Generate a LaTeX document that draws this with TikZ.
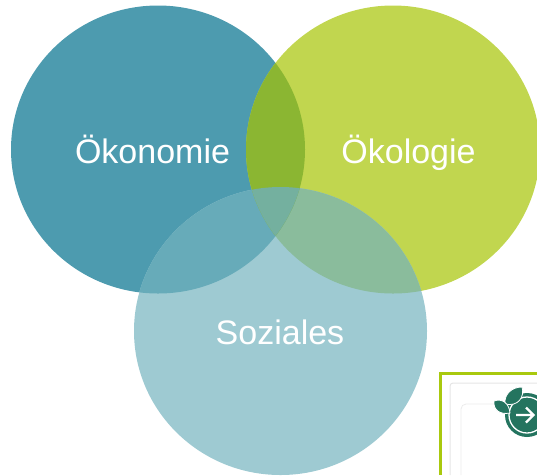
\documentclass[tikz,border=0pt]{standalone}
\usepackage{fontspec}
\setmainfont{Liberation Sans}
\usetikzlibrary{calc, positioning, shapes.geometric}
\definecolor{oekonomiecol}{HTML}{4D9BAF}
\definecolor{oekologiecol}{HTML}{C1D64F}
\definecolor{sozialescol}{HTML}{9ECAD2}
\definecolor{teilAB}{HTML}{8BB632}
\definecolor{teilAC}{HTML}{67ABB9}
\definecolor{teilBC}{HTML}{8ABC9C}
\definecolor{teilABC}{HTML}{74B09F}
\definecolor{framecol}{HTML}{A9C90E}
\definecolor{iconcol}{HTML}{24745F}
\tikzset{
   ringnode/.style={ellipse,draw=none,inner sep=0,outer sep=0,minimum width=294pt,minimum height=288pt},
   ringlabel/.style={inner sep=0,outer sep=0,anchor=base,text=white,font=\fontsize{34}{40}\selectfont},
   leaf/.style={fill=iconcol,draw=white,line width=0.8pt},
}
\begin{document}
\begin{tikzpicture}[x=1pt,y=-1pt]
   \useasboundingbox (0,0) rectangle (537,475);

   % the three circles
   \node[ringnode,fill=oekonomiecol] (oekonomie) at (158,149.5) {};
   \node[ringnode,fill=oekologiecol] (oekologie) at (393,149.5) {};
   \node[ringnode,fill=sozialescol,minimum width=293pt] (soziales) at (280.5,331) {};

   % overlaps
   \begin{scope}
      \clip (oekologie.center) ellipse (147pt and 144pt);
      \fill[teilBC] (soziales.center) ellipse (146.5pt and 144pt);
   \end{scope}
   \begin{scope}
      \clip (oekonomie.center) ellipse (147pt and 144pt);
      \fill[teilAC] (soziales.center) ellipse (146.5pt and 144pt);
      \clip (oekologie.center) ellipse (147pt and 144pt);
      \fill[teilAB] (oekologie.center) ellipse (147pt and 144pt);
      \fill[teilABC] (soziales.center) ellipse (146.5pt and 144pt);
   \end{scope}

   % labels
   \node[ringlabel] (oekonomie label) at (152.5,163) {Ökonomie};
   \node[ringlabel] (oekologie label) at (408.5,163) {Ökologie};
   \node[ringlabel] (soziales label) at (280,344) {Soziales};

   % inset in the corner
   \draw[framecol,line width=3pt] (440.5,475) -- (440.5,373.5) -- (537,373.5);
   \draw[black!10,line width=1pt,rounded corners=3pt] (450,475) -- (450,383) -- (537,383);
   \draw[black!8,line width=0.8pt,rounded corners=5pt] (461,475) -- (461,404) -- (505,404);

   % icon
   \fill[white] (527,415) circle (24pt);
   \fill[iconcol] (527,415) circle (22pt);
   \draw[white,line width=1.3pt] (527,415) circle (18pt);
   \fill[leaf] (505,404) .. controls (504,394) and (512,387) .. (522,387) .. controls (525,397) and (518,407) .. (505,404) -- cycle;
   \fill[leaf] (494,401) .. controls (502,398) and (509,403) .. (510,413) .. controls (500,415) and (493,410) .. (494,401) -- cycle;
   \draw[white,line width=2.2pt,line join=miter] (516,415) -- (533,415) (526,407.5) -- (533.5,415) -- (526,422.5);
\end{tikzpicture}
\end{document}
